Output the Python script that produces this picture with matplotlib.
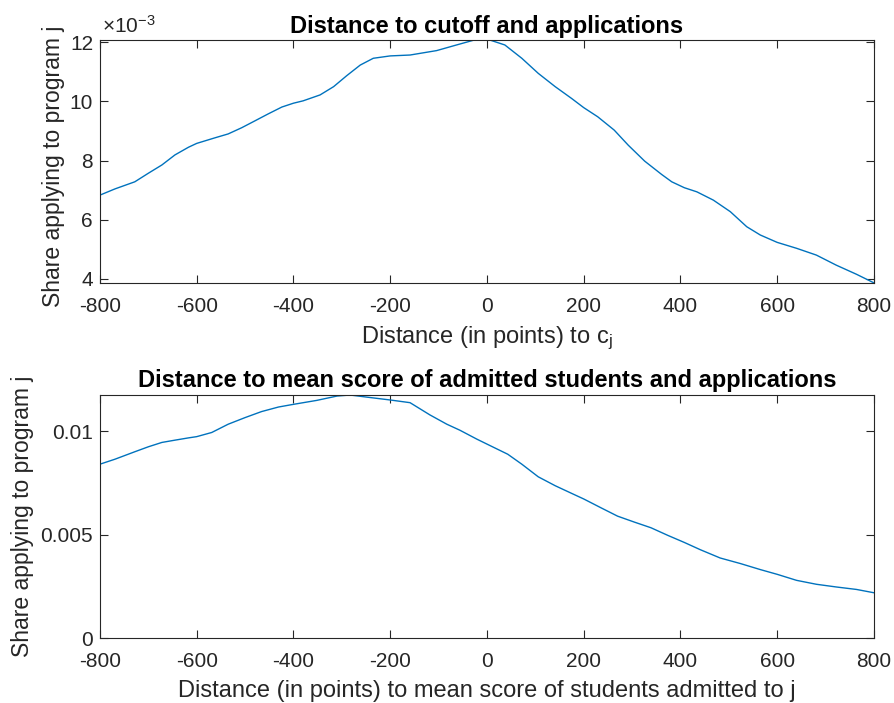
import numpy as np
import matplotlib
matplotlib.use('Agg')
import matplotlib.pyplot as plt
from matplotlib.ticker import FuncFormatter

plt.rcParams['font.family'] = ['Liberation Sans', 'DejaVu Sans']
plt.rcParams['mathtext.fontset'] = 'custom'
plt.rcParams['mathtext.rm'] = 'Liberation Sans'
plt.rcParams['mathtext.it'] = 'Liberation Sans'
plt.rcParams['axes.unicode_minus'] = False

# distance to cutoff (points) and share applying
dist_cutoff = [-800, -769, -728, -700, -672, -645, -617, -600, -562, -535, -507,
               -480, -452, -424, -400, -380, -345, -317, -290, -262, -235, -200,
               -159, -104, -63, -28, 0, 37, 72, 106, 141, 175, 200, 229, 263,
               292, 326, 361, 382, 408, 434, 468, 503, 537, 565, 600, 640, 681,
               722, 764, 800]
share_cutoff = [6.83, 7.04, 7.28, 7.57, 7.85, 8.19, 8.45, 8.58, 8.77, 8.90, 9.11,
                9.34, 9.58, 9.81, 9.94, 10.02, 10.22, 10.50, 10.87, 11.23, 11.46,
                11.54, 11.57, 11.72, 11.91, 12.07, 12.11, 11.91, 11.46, 10.95,
                10.50, 10.10, 9.79, 9.48, 9.03, 8.52, 7.98, 7.53, 7.28, 7.08,
                6.94, 6.66, 6.27, 5.76, 5.48, 5.23, 5.03, 4.80, 4.46, 4.15, 3.86]
share_cutoff = [v * 1e-3 for v in share_cutoff]

# distance to mean admitted score (points) and share applying
dist_mean = [-800, -769, -728, -700, -672, -645, -617, -600, -569, -535, -500,
             -466, -431, -400, -352, -310, -283, -249, -200, -159, -118, -83,
             -56, -21, 7, 43, 72, 106, 141, 175, 200, 236, 270, 305, 339, 374,
             408, 441, 482, 524, 565, 600, 640, 681, 722, 764, 800]
share_mean = [0.00841, 0.00865, 0.00901, 0.00925, 0.00946, 0.00957, 0.00968,
              0.00974, 0.00994, 0.01034, 0.01066, 0.01095, 0.01117, 0.01130,
              0.01149, 0.01170, 0.01175, 0.01165, 0.01151, 0.01138, 0.01079,
              0.01034, 0.01005, 0.00962, 0.00930, 0.00889, 0.00841, 0.00780,
              0.00737, 0.00700, 0.00673, 0.00630, 0.00590, 0.00561, 0.00534,
              0.00497, 0.00463, 0.00428, 0.00388, 0.00361, 0.00332, 0.00309,
              0.00280, 0.00261, 0.00248, 0.00236, 0.00220]

xticks = [-800, -600, -400, -200, 0, 200, 400, 600, 800]

line_col = '#0072BD'
ax_col = '#262626'
fs_tick = 15
fs_lab = 17

fig = plt.figure(figsize=(8.95, 7.03), dpi=100)
ax1 = fig.add_axes([0.1117, 0.5974, 0.8648, 0.3464])
ax2 = fig.add_axes([0.1117, 0.0920, 0.8648, 0.3461])

for ax in (ax1, ax2):
    ax.set_xlim(-800, 800)
    ax.set_xticks(xticks)
    ax.tick_params(direction='in', top=True, right=True, length=6, width=0.8,
                   colors=ax_col, labelsize=fs_tick, pad=10)
    ax.tick_params(axis='y', pad=5)
    for s in ax.spines.values():
        s.set_color(ax_col)
        s.set_linewidth(0.8)

ax1.plot(dist_cutoff, share_cutoff, color=line_col, lw=1.0)
ax1.set_ylim(3.855e-3, 12.095e-3)
ax1.set_yticks([4e-3, 6e-3, 8e-3, 10e-3, 12e-3])
ax1.yaxis.set_major_formatter(FuncFormatter(lambda v, p: '%g' % round(v * 1e3, 6)))
ax1.text(0.002, 1.012, '$\\times$10$^{\\mathrm{-3}}$', transform=ax1.transAxes,
         fontsize=fs_tick, color=ax_col, ha='left', va='bottom')
ax1.set_title('Distance to cutoff and applications', fontsize=fs_lab,
              fontweight='bold', pad=5)
ax1.set_xlabel('Distance (in points) to c$_\\mathrm{j}$', fontsize=fs_lab,
               color=ax_col, labelpad=6)
ax1.set_ylabel('Share applying to program j', fontsize=16.5, color=ax_col)
ax1.yaxis.set_label_coords(-0.045, 0.48)

ax2.plot(dist_mean, share_mean, color=line_col, lw=1.0)
ax2.set_ylim(0, 0.01175)
ax2.set_yticks([0, 0.005, 0.01])
ax2.yaxis.set_major_formatter(FuncFormatter(lambda v, p: '%g' % v))
ax2.set_title('Distance to mean score of admitted students and applications',
              fontsize=fs_lab, fontweight='bold', pad=6)
ax2.set_xlabel('Distance (in points) to mean score of students admitted to j',
               fontsize=fs_lab, color=ax_col, labelpad=6)
ax2.set_ylabel('Share applying to program j', fontsize=16.5, color=ax_col)
ax2.yaxis.set_label_coords(-0.085, 0.5)

fig.savefig('out.png', dpi=100)
